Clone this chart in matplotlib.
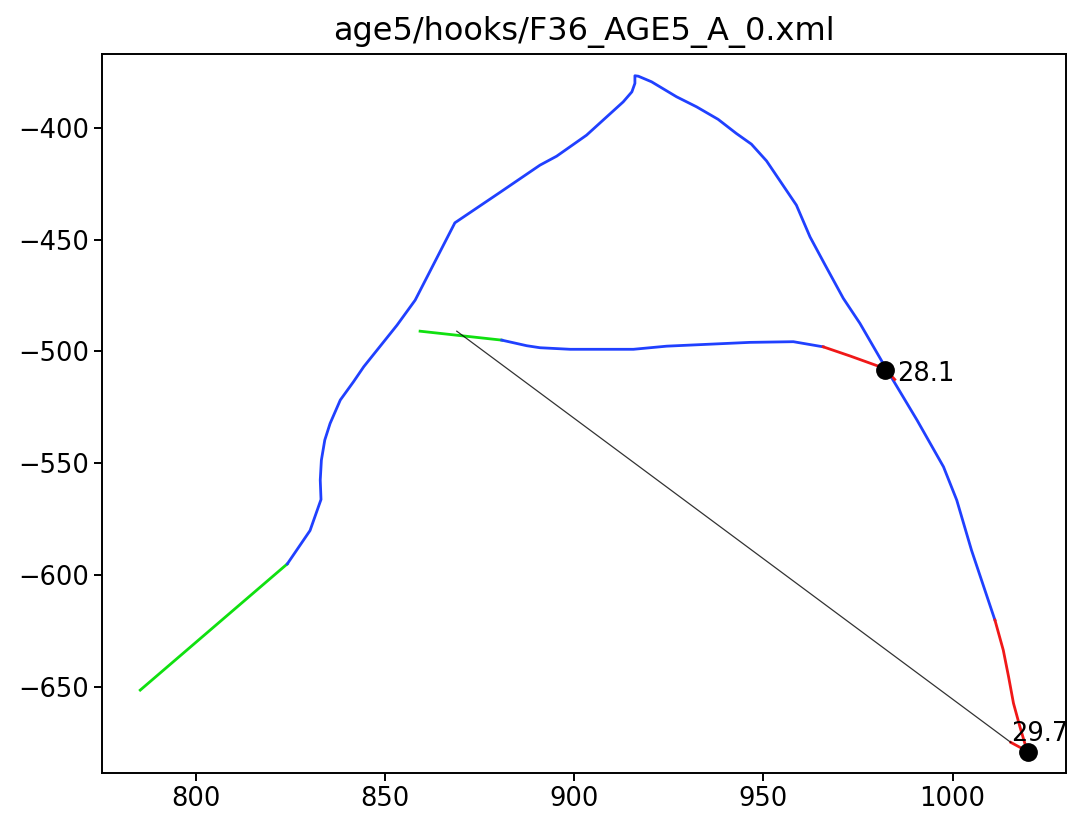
import numpy as np
import matplotlib
matplotlib.use('Agg')
import matplotlib.pyplot as plt

title = 'age5/hooks/F36_AGE5_A_0.xml'

# outer stroke, split by colour
outerGreenX = [785.2, 824.1]
outerGreenY = [-651.6, -595.1]

outerBlueX = [824.1, 830.1, 833.0, 832.8, 833.1, 834.0, 835.4, 838.1, 841.6, 844.3, 849.6, 853.1, 857.9,
              868.4, 880.4, 890.9, 895.3, 903.2, 912.9, 915.2, 916.0, 916.0, 916.9, 920.4, 927.0, 932.3,
              938.0, 942.8, 946.8, 950.8, 958.7, 962.3, 966.3, 971.1, 975.5, 982.0, 990.6, 997.6, 1001.1,
              1005.0, 1011.2]
outerBlueY = [-595.1, -580.2, -566.3, -557.6, -548.7, -539.7, -532.3, -521.8, -513.6, -506.9, -495.7, -488.3, -477.1,
              -442.5, -428.8, -416.7, -412.7, -403.3, -388.4, -383.9, -380.1, -376.7, -376.9, -379.4, -386.1, -390.6,
              -396.2, -402.5, -407.3, -414.8, -434.6, -448.8, -461.4, -476.3, -487.5, -506.5, -530.8, -551.7, -566.6,
              -589.0, -620.3]

outerRedX = [1011.2, 1013.4, 1014.8, 1016.1, 1017.8, 1019.1, 1020.0, 1015.4]
outerRedY = [-620.3, -633.7, -645.6, -657.5, -668.0, -675.4, -679.2, -675.0]

# inner stroke
innerGreenX = [859.2, 868.9, 880.8]
innerGreenY = [-491.0, -492.8, -495.0]

innerBlueX = [880.8, 887.4, 890.9, 898.9, 915.6, 924.4, 946.4, 957.9, 965.8]
innerBlueY = [-495.0, -497.5, -498.4, -499.1, -499.1, -497.7, -496.0, -495.7, -498.0]

innerRedX = [965.8, 972.9, 982.1, 984.7]
innerRedY = [-498.0, -502.1, -507.7, -512.6]

# connecting line
chordX = [868.9, 1015.4]
chordY = [-491.0, -675.0]

# marked points
ptX = [982.1, 1020.0]
ptY = [-508.2, -679.2]
ptLabels = ['28.1', '29.7']
labelOffsets = [(8.5, -8), (-12.5, 8)]   # points

fig = plt.figure(figsize=(10.74, 8.25), dpi=100)
ax = fig.add_axes([0.095, 0.063, 0.8976, 0.872])

lw = 2.0
blue = '#2040ff'
green = '#10e010'
red = '#f01818'
ax.plot(outerGreenX, outerGreenY, color=green, lw=lw)
ax.plot(outerBlueX, outerBlueY, color=blue, lw=lw)
ax.plot(outerRedX, outerRedY, color=red, lw=lw)
ax.plot(innerGreenX, innerGreenY, color=green, lw=lw)
ax.plot(innerBlueX, innerBlueY, color=blue, lw=lw)
ax.plot(innerRedX, innerRedY, color=red, lw=lw)
ax.plot(chordX, chordY, color='black', lw=0.9, alpha=0.8)

ax.plot(ptX, ptY, 'o', color='black', markersize=12.5)
for x, y, lab, off in zip(ptX, ptY, ptLabels, labelOffsets):
    ax.annotate(lab, (x, y), xytext=off, textcoords='offset points',
                ha='left', va='baseline', fontsize=18.5)

ax.set_xlim(775.1, 1030.0)
ax.set_ylim(-688.7, -366.8)
ax.set_xticks([800, 850, 900, 950, 1000])
ax.set_yticks([-650, -600, -550, -500, -450, -400])
ax.tick_params(labelsize=18.5, length=6, width=1.4)
for s in ax.spines.values():
    s.set_linewidth(1.4)
ax.set_title(title, fontsize=23, pad=10)

plt.savefig('out.png', dpi=100)
